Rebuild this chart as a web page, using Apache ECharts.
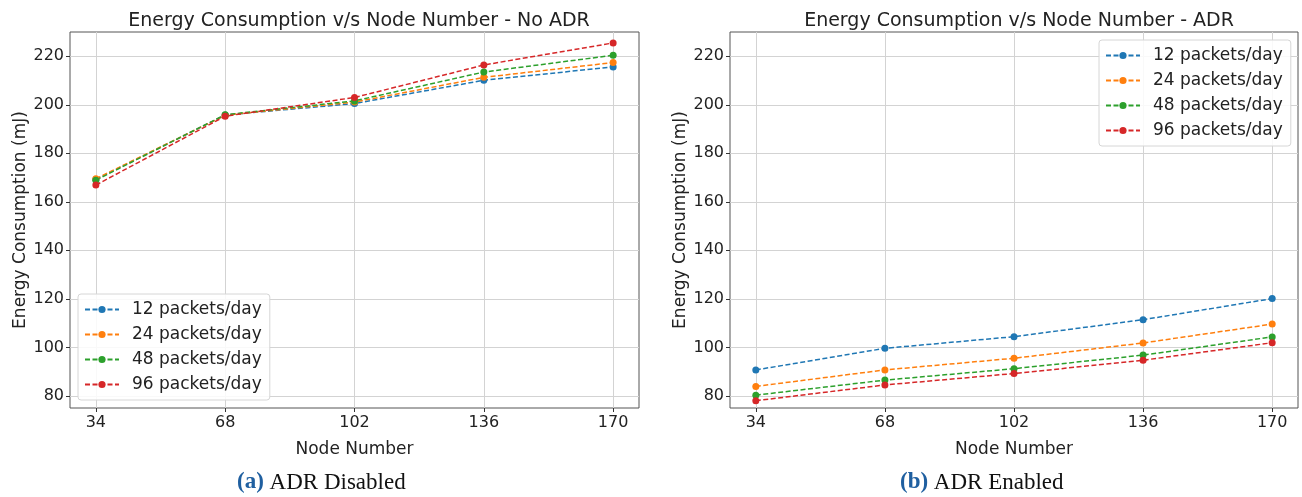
<!DOCTYPE html>
<html>
<head>
<meta charset="utf-8">
<script src="https://cdn.jsdelivr.net/npm/echarts@6/dist/echarts.min.js"></script>
<style>
  html, body { margin: 0; padding: 0; background: #fff; }
  #chart { width: 1302px; height: 497px; }
</style>
</head>
<body>
<div id="chart"></div>
<script>
// Node counts on the x axis
const nodeNumbers = [34, 68, 102, 136, 170];
const yTicks = [80, 100, 120, 140, 160, 180, 200, 220];
const seriesNames = ['12 packets/day', '24 packets/day', '48 packets/day', '96 packets/day'];

// Energy consumption (mJ) without ADR
const noAdr12 = [169.2, 195.8, 200.5, 210.1, 215.6];
const noAdr24 = [169.5, 195.7, 201.1, 211.3, 217.4];
const noAdr48 = [168.9, 195.9, 201.6, 213.5, 220.4];
const noAdr96 = [166.9, 195.3, 203.0, 216.4, 225.5];

// Energy consumption (mJ) with ADR
const adr12 = [90.7, 99.6, 104.4, 111.4, 120.1];
const adr24 = [83.9, 90.7, 95.5, 101.8, 109.6];
const adr48 = [80.3, 86.5, 91.2, 96.8, 104.3];
const adr96 = [78.0, 84.5, 89.2, 94.7, 101.9];

const colors = ['#1f77b4', '#ff7f0e', '#2ca02c', '#d62728'];
const FONT = 'DejaVu Sans';

function pairs(ys) { return nodeNumbers.map((x, i) => [x, ys[i]]); }

function makeSeries(name, ys, idx, color) {
  return {
    name: name, type: 'line', xAxisIndex: idx, yAxisIndex: idx,
    data: pairs(ys), color: color,
    symbol: 'circle', symbolSize: 7,
    lineStyle: { type: [5, 2.5], width: 1.5, color: color },
    itemStyle: { color: color },
    emphasis: { disabled: true },
    animation: false, z: 3
  };
}

function xAxis(idx) {
  return {
    type: 'value', gridIndex: idx, min: 27.2, max: 176.8,
    name: 'Node Number', nameLocation: 'middle', nameGap: 33,
    nameTextStyle: { fontFamily: FONT, fontSize: 17, color: '#222' },
    axisLine: { show: false },
    axisTick: { show: true, customValues: nodeNumbers, length: 4, lineStyle: { color: '#333' } },
    axisLabel: { customValues: nodeNumbers, fontFamily: FONT, fontSize: 16, color: '#222', margin: 7 },
    splitLine: { show: true, customValues: nodeNumbers, lineStyle: { color: '#d3d3d3', width: 1 } }
  };
}

function yAxis(idx) {
  return {
    type: 'value', gridIndex: idx, min: 75, max: 230,
    name: 'Energy Consumption (mJ)', nameLocation: 'middle', nameGap: 41,
    nameTextStyle: { fontFamily: FONT, fontSize: 17, color: '#222' },
    axisLine: { show: false },
    axisTick: { show: true, customValues: yTicks, length: 4, lineStyle: { color: '#333' } },
    axisLabel: { customValues: yTicks, fontFamily: FONT, fontSize: 16, color: '#222', margin: 6 },
    splitLine: { show: true, customValues: yTicks, lineStyle: { color: '#d3d3d3', width: 1 } }
  };
}

function legend(pos) {
  return Object.assign({
    orient: 'vertical', data: seriesNames,
    backgroundColor: 'rgba(255,255,255,0.85)', borderColor: '#d6d6d6', borderWidth: 1, borderRadius: 3,
    padding: [6, 8, 6, 6], itemWidth: 34, itemHeight: 9, itemGap: 6,
    textStyle: { fontFamily: FONT, fontSize: 17, color: '#222', lineHeight: 19, padding: [0, 0, 0, 8] },
    selectedMode: false
  }, pos);
}

const captionRich = { b: { fontFamily: 'Liberation Serif', fontSize: 23, fontWeight: 'bold', fill: '#1f5fa0' } };

const chart = echarts.init(document.getElementById('chart'), null, { renderer: 'canvas' });
chart.setOption({
  animation: false,
  backgroundColor: '#fff',
  title: [
    { text: 'Energy Consumption v/s Node Number - No ADR', left: 354, top: 7, textAlign: 'center',
      textStyle: { fontFamily: FONT, fontSize: 19, fontWeight: 'normal', color: '#222' } },
    { text: 'Energy Consumption v/s Node Number - ADR', left: 1014, top: 7, textAlign: 'center',
      textStyle: { fontFamily: FONT, fontSize: 19, fontWeight: 'normal', color: '#222' } }
  ],
  grid: [
    { left: 70, top: 32, width: 569, height: 376, show: true, borderColor: '#555', borderWidth: 1, backgroundColor: 'transparent' },
    { left: 730, top: 32, width: 568, height: 376, show: true, borderColor: '#555', borderWidth: 1, backgroundColor: 'transparent' }
  ],
  xAxis: [xAxis(0), xAxis(1)],
  yAxis: [yAxis(0), yAxis(1)],
  legend: [
    legend({ left: 78, top: 294 }),
    legend({ left: 1099, top: 40 })
  ],
  series: [
    makeSeries(seriesNames[0], noAdr12, 0, colors[0]),
    makeSeries(seriesNames[1], noAdr24, 0, colors[1]),
    makeSeries(seriesNames[2], noAdr48, 0, colors[2]),
    makeSeries(seriesNames[3], noAdr96, 0, colors[3]),
    makeSeries(seriesNames[0], adr12, 1, colors[0]),
    makeSeries(seriesNames[1], adr24, 1, colors[1]),
    makeSeries(seriesNames[2], adr48, 1, colors[2]),
    makeSeries(seriesNames[3], adr96, 1, colors[3])
  ],
  graphic: [
    { type: 'text', left: 237, top: 471, style: {
        text: '{b|(a)} ADR Disabled', rich: captionRich,
        fontFamily: 'Liberation Serif', fontSize: 23, fill: '#111' } },
    { type: 'text', left: 900, top: 471, style: {
        text: '{b|(b)} ADR Enabled', rich: captionRich,
        fontFamily: 'Liberation Serif', fontSize: 23, fill: '#111' } }
  ]
});
</script>
</body>
</html>
